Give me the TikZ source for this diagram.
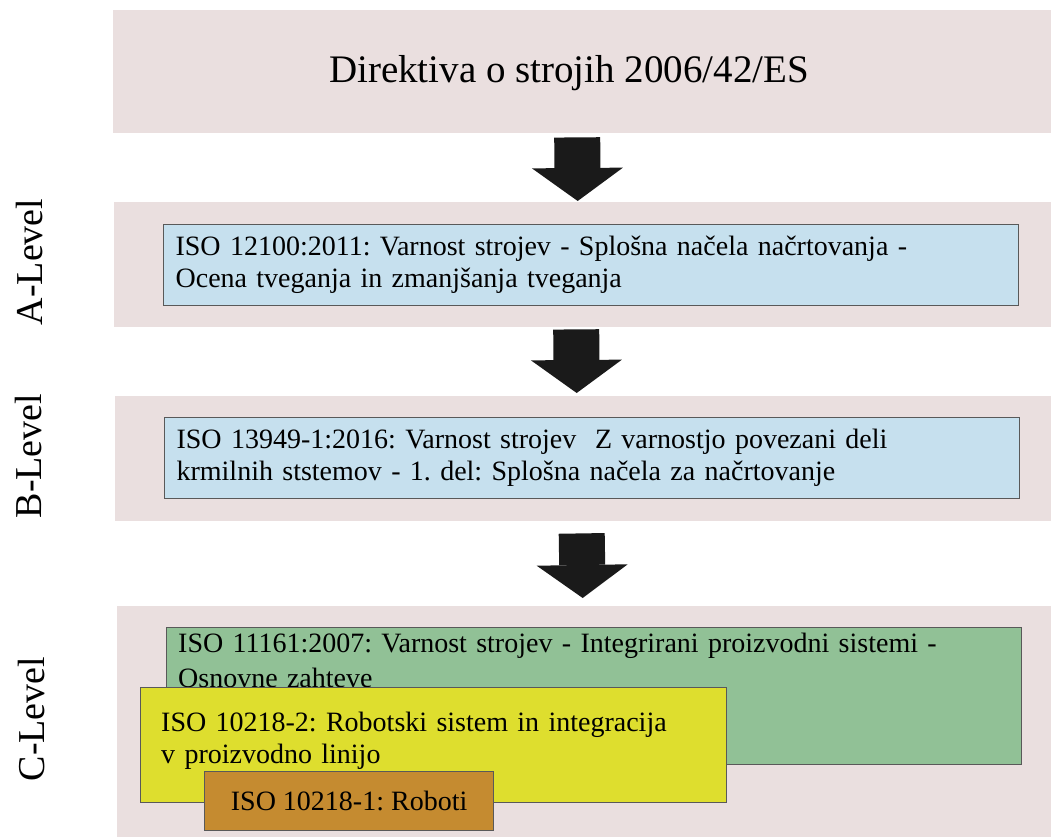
\documentclass[tikz,border=0pt]{standalone}
\usepackage{fontspec}
\setmainfont{Liberation Serif}
\usepackage{tikz}
\usetikzlibrary{arrows.meta,positioning}
\frenchspacing

\definecolor{bandpink}{RGB}{234,223,223}
\definecolor{isoblue}{RGB}{198,224,238}
\definecolor{isogreen}{RGB}{145,193,150}
\definecolor{isoyellow}{RGB}{222,222,46}
\definecolor{isoorange}{RGB}{197,139,48}
\definecolor{arrowblack}{RGB}{26,26,26}

\begin{document}
\begin{tikzpicture}[x=1pt,y=-1pt,>={Triangle[length=33pt,width=91pt,line width=0pt]},
                    font=\fontsize{28}{32}\selectfont]
  \tikzstyle{band}=[fill=bandpink,anchor=north west,inner sep=0pt]
  \tikzstyle{iso}=[draw=black!65,line width=1.2pt,anchor=north west,inner sep=0pt,align=left]
  \tikzstyle{isotext}=[anchor=north west,inner sep=0pt,align=left]
  \tikzstyle{level}=[rotate=90,font=\fontsize{38}{44}\selectfont]
  \tikzstyle{bigarrow}=[->,draw=arrowblack,line width=46pt]

  \useasboundingbox (0,0) rectangle (1051,837);

  \node[band, minimum width=938pt, minimum height=123pt] (D) at (113,10) {};
  \node[band, minimum width=937pt, minimum height=125pt] (A) at (114,202) {};
  \node[band, minimum width=936pt, minimum height=125pt] (B) at (115,396) {};
  \node[band, minimum width=934pt, minimum height=231pt] (C) at (117,606) {};

  \node[font=\fontsize{39}{46}\selectfont, anchor=base] (dtext) at (569,83) {Direktiva o strojih 2006/42/ES};

  \node[level] (la) at (30,262) {A-Level};
  \node[level] (lb) at (29,456) {B-Level};
  \node[level] (lc) at (32,719) {C-Level};

  \node[iso, fill=isoblue, minimum height=81pt, text width=831pt, inner xsep=12pt] (a) at (163,224)
    {ISO 12100:2011: Varnost strojev - Splošna načela načrtovanja -\\Ocena tveganja in zmanjšanja tveganja};
  \node[iso, fill=isoblue, minimum height=81pt, text width=831pt, inner xsep=12pt] (b) at (164,417)
    {ISO 13949-1:2016: Varnost strojev\ \ Z varnostjo povezani deli\\krmilnih ststemov - 1. del: Splošna načela za načrtovanje};

  \node[iso, fill=isogreen, minimum width=855pt, minimum height=137pt] (c1) at (166,627) {};
  \node[isotext, text width=830pt] (c1t) at (178,633)
    {ISO 11161:2007: Varnost strojev - Integrirani proizvodni sistemi -\\[3pt]Osnovne zahteve};
  \node[iso, fill=isoyellow, minimum width=586pt, minimum height=115pt] (c2) at (140,687) {};
  \node[isotext, text width=560pt] (c2t) at (161,712)
    {ISO 10218-2: Robotski sistem in integracija\\v proizvodno linijo};
  \node[iso, fill=isoorange, minimum width=289pt, minimum height=59pt, align=center] (c3) at (204,771)
    {ISO 10218-1: Roboti};

  \draw[bigarrow] ([xshift=-5pt,yshift=-4pt]D.south) -- ([xshift=-5pt,yshift=1pt]A.north);
  \draw[bigarrow] ([xshift=-6.5pt,yshift=-2pt]A.south) -- ([xshift=-6.5pt,yshift=3pt]B.north);
  \draw[bigarrow] ([xshift=-1.5pt,yshift=-12pt]B.south) -- ([xshift=-1.5pt,yshift=8pt]C.north);
\end{tikzpicture}
\end{document}
